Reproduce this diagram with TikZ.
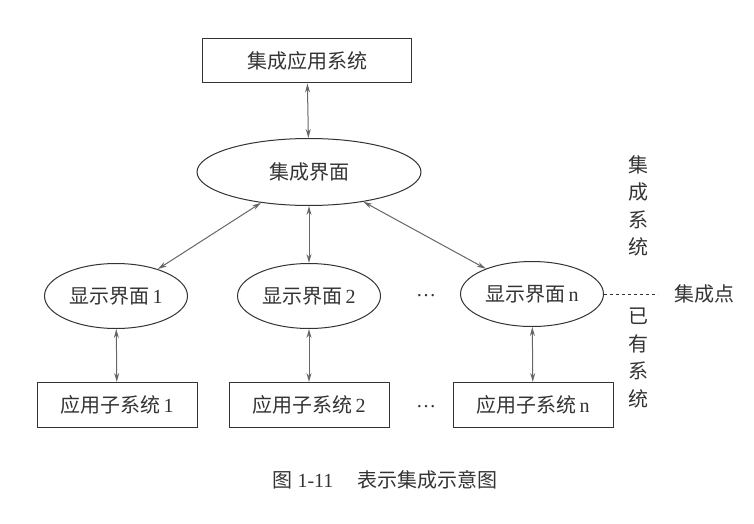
\documentclass[tikz,border=0pt]{standalone}
\usepackage{fontspec}
\setmainfont{Liberation Serif}
\newfontfamily\cjk{Noto Sans CJK SC}
\usetikzlibrary{shapes.geometric,arrows.meta}
\definecolor{ink}{gray}{0.2}
\definecolor{lineg}{gray}{0.4}
\tikzset{
  txt/.style={font=\fontsize{20}{24}\selectfont, text=ink},
  sysbox/.style={txt, draw=ink, line width=1pt, rectangle, minimum width=160pt, minimum height=45pt, inner sep=0pt},
  topbox/.style={sysbox, minimum width=209pt, minimum height=44pt},
  ell/.style={txt, draw=ink, line width=1pt, ellipse, minimum width=143pt, minimum height=65pt, inner sep=0pt},
  bigell/.style={ell, minimum width=224pt, minimum height=67pt},
  arr/.style={draw=lineg, line width=1pt, {Stealth[length=9pt,width=5pt,open]}-{Stealth[length=9pt,width=5pt,open]}},
  vtxt/.style={txt, align=center, font=\fontsize{20}{27.5}\selectfont},
}
\begin{document}
\begin{tikzpicture}[x=1pt,y=-1pt]
\useasboundingbox (0,0) rectangle (754,524);
\node[topbox] (top) at (307,61) {\cjk 集成应用系统};
\node[bigell] (main) at (309,172) {\cjk 集成界面};
\node[ell] (e1) at (116,296) {{\cjk 显示界面}\,1};
\node[ell] (e2) at (309,296) {{\cjk 显示界面}\,2};
\node[ell] (en) at (532,294) {{\cjk 显示界面}\,n};
\node[sysbox] (b1) at (117,405) {{\cjk 应用子系统}\,1};
\node[sysbox] (b2) at (309,405) {{\cjk 应用子系统}\,2};
\node[sysbox] (bn) at (533,405) {{\cjk 应用子系统}\,n};
\node[txt] (d1) at (426,296) {\dots};
\node[txt] (d2) at (426,407) {\dots};
\node[txt] (jcd) at (704,294) {\cjk 集成点};
\coordinate (dashend) at (658,294);
\node[vtxt] (jcxt) at (638,206) {\cjk 集\\\cjk 成\\\cjk 系\\\cjk 统};
\node[vtxt] (yyxt) at (638,358) {\cjk 已\\\cjk 有\\\cjk 系\\\cjk 统};
\node[txt, font=\fontsize{20}{24}\selectfont] (cap) at (385,480) {{\cjk 图}\ 1-11\hspace{1.2em}{\cjk 表示集成示意图}};
\draw[arr] (top) -- (main);
\draw[arr] (main) -- (e1);
\draw[arr] (main) -- (e2);
\draw[arr] (main) -- (en);
\draw[arr] (e1) -- (b1);
\draw[arr] (e2) -- (b2);
\draw[arr] (en) -- (bn);
\draw[draw=ink, line width=1pt, dashed] (en.east) -- (dashend);
\end{tikzpicture}
\end{document}
